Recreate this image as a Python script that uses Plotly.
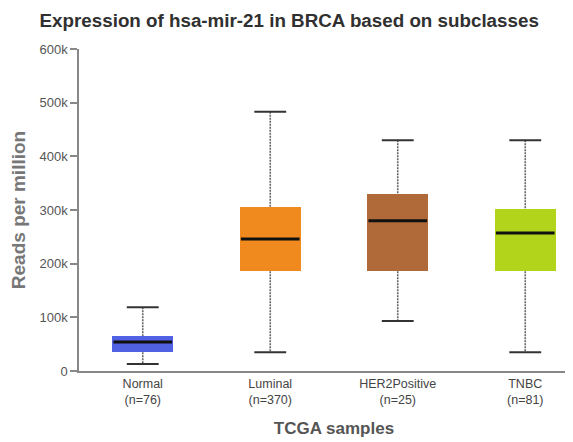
import plotly.graph_objects as go

categories = ["Normal", "Luminal", "HER2Positive", "TNBC"]
counts = [76, 370, 25, 81]
lower_whisker = [13000, 35000, 93000, 35000]
q1 = [35000, 186000, 186000, 186000]
median = [54000, 246000, 280000, 257000]
q3 = [65000, 305000, 330000, 302000]
upper_whisker = [119000, 483000, 430000, 430000]
colors = ["#5061e3", "#f08a1f", "#b06a39", "#b2d41a"]
y_ticks = [0, 100000, 200000, 300000, 400000, 500000, 600000]
y_ticklabels = ["0", "100k", "200k", "300k", "400k", "500k", "600k"]

pos = list(range(len(categories)))
box_w = 0.48
cap_half = 0.125
med_half = box_w / 2

fig = go.Figure()

# whiskers (dashed)
wx, wy = [], []
for i in pos:
    wx += [i, i, None, i, i, None]
    wy += [upper_whisker[i], q3[i], None, q1[i], lower_whisker[i], None]
fig.add_trace(go.Scatter(x=wx, y=wy, mode="lines",
                         line=dict(color="#666666", width=1.6, dash="2px,1px"),
                         hoverinfo="skip", showlegend=False))

# caps
cx, cy = [], []
for i in pos:
    cx += [i - cap_half, i + cap_half, None, i - cap_half, i + cap_half, None]
    cy += [upper_whisker[i], upper_whisker[i], None, lower_whisker[i], lower_whisker[i], None]
fig.add_trace(go.Scatter(x=cx, y=cy, mode="lines",
                         line=dict(color="#333333", width=2),
                         hoverinfo="skip", showlegend=False))

# boxes
fig.add_trace(go.Bar(x=pos, y=[q3[i] - q1[i] for i in pos], base=q1,
                     width=box_w, marker=dict(color=colors, line=dict(width=0)),
                     showlegend=False))

# medians
mx, my = [], []
for i in pos:
    mx += [i - med_half + 0.01, i + med_half - 0.01, None]
    my += [median[i], median[i], None]
fig.add_trace(go.Scatter(x=mx, y=my, mode="lines",
                         line=dict(color="#111111", width=3),
                         hoverinfo="skip", showlegend=False))

fig.update_layout(
    width=581, height=442,
    margin=dict(l=71, r=0, t=41, b=79),
    paper_bgcolor="white", plot_bgcolor="white",
    font=dict(family="Liberation Sans, Arial, sans-serif", color="#333333"),
    title=dict(text="<b>Expression of hsa-mir-21 in BRCA based on subclasses</b>",
               x=0.484, xanchor="center", xref="container", y=0.973, yanchor="middle",
               font=dict(size=18.8, color="#303030")),
    bargap=0,
)

fig.update_xaxes(
    range=[-0.5, 3.5],
    tickvals=pos,
    ticktext=[f"{c}<br>(n={n})" for c, n in zip(categories, counts)],
    tickfont=dict(size=12.5, color="#444444"),
    showline=True, linecolor="#888888", linewidth=2,
    ticks="", showgrid=False, zeroline=False,
    title=dict(text="<b>TCGA samples</b>", font=dict(size=17, color="#555555"), standoff=16),
)
fig.update_yaxes(
    range=[0, 600000],
    tickvals=y_ticks, ticktext=y_ticklabels,
    tickfont=dict(size=13, color="#555555"),
    showline=True, linecolor="#888888", linewidth=1.5,
    ticks="outside", ticklen=7, tickcolor="#888888", tickwidth=1.5,
    showgrid=False, zeroline=False,
    title=dict(text="<b>Reads per million</b>", font=dict(size=19, color="#777777"), standoff=16),
)

fig.write_html("out.html")
